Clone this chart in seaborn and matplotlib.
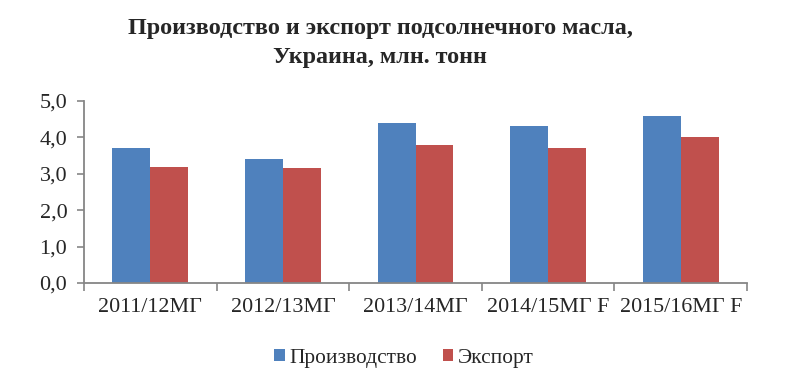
import numpy as np
import pandas as pd
import matplotlib
matplotlib.use("Agg")
import matplotlib.pyplot as plt
import seaborn as sns

# data
seasons = ["2011/12МГ", "2012/13МГ", "2013/14МГ", "2014/15МГ F", "2015/16МГ F"]
production = [3.7, 3.4, 4.4, 4.3, 4.6]
export = [3.2, 3.15, 3.8, 3.7, 4.0]
series_names = ["Производство", "Экспорт"]
colors = ["#4F81BD", "#C0504D"]

df = pd.DataFrame({
    "season": seasons * 2,
    "value": production + export,
    "series": [series_names[0]] * len(seasons) + [series_names[1]] * len(seasons),
})

sns.set_style("white")
plt.rcParams["font.family"] = ["Liberation Serif", "DejaVu Serif"]

fig = plt.figure(figsize=(7.89, 3.88), dpi=100)
ax = fig.add_axes([84 / 789, 1 - 283 / 388, (747 - 84) / 789, (283 - 101) / 388])

sns.barplot(data=df, x="season", y="value", hue="series", order=seasons,
            hue_order=series_names, palette=colors, width=0.573, gap=0,
            saturation=1, linewidth=0, ax=ax, legend=True)

ax.set_xlim(-0.5, len(seasons) - 0.5)
ax.set_ylim(0, 5)
ax.set_yticks(np.arange(0, 5.01, 1))
ax.set_yticklabels([f"{v:.1f}".replace(".", ",") for v in np.arange(0, 5.01, 1)])

# category boundaries as major ticks, labels on minor ticks
ax.set_xticks(np.arange(-0.5, len(seasons), 1))
ax.set_xticklabels([])
ax.set_xticks(np.arange(len(seasons)), minor=True)
ax.set_xticklabels(seasons, minor=True)
ax.tick_params(axis="x", which="major", direction="out", length=6, width=1.2,
               color="#868686", bottom=True)
ax.tick_params(axis="x", which="minor", length=0, pad=11, labelsize=15.8)
ax.tick_params(axis="y", direction="out", length=5, width=1.2, color="#868686",
               left=True, labelsize=16, pad=7)

for side in ["top", "right"]:
    ax.spines[side].set_visible(False)
for side in ["left", "bottom"]:
    ax.spines[side].set_color("#868686")
    ax.spines[side].set_linewidth(1.3)

ax.set_xlabel("")
ax.set_ylabel("")

fig.text(380 / 789, 1 - 43 / 388,
         "Производство и экспорт подсолнечного масла,\nУкраина, млн. тонн",
         ha="center", va="center", fontsize=17.4, fontweight="bold",
         linespacing=1.45)

ax.legend(loc="center", bbox_to_anchor=(404 / 789, 1 - 358 / 388),
          bbox_transform=fig.transFigure, ncol=2, frameon=False,
          fontsize=15.4, handlelength=0.5, handleheight=0.5,
          handletextpad=0.2, columnspacing=1.2)

fig.savefig("out.png", dpi=100)
